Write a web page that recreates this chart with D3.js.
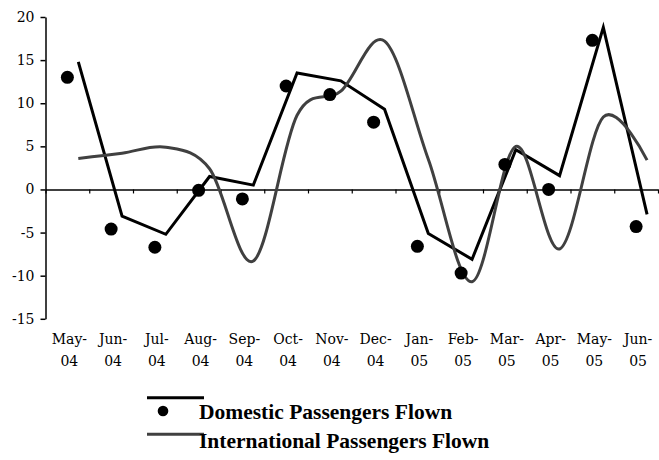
<!DOCTYPE html>
<html>
<head>
<meta charset="utf-8">
<script src="https://cdn.jsdelivr.net/npm/d3@7/dist/d3.min.js"></script>
<style>
  html, body { margin: 0; padding: 0; background: #fff; }
  svg { display: block; }
</style>
</head>
<body>
<svg id="chart" width="659" height="460"></svg>
<script>
// Monthly growth of passengers flown (%)
const months = ["May-04", "Jun-04", "Jul-04", "Aug-04", "Sep-04", "Oct-04", "Nov-04",
                "Dec-04", "Jan-05", "Feb-05", "Mar-05", "Apr-05", "May-05", "Jun-05"];
const domesticPoints = [13.0, -4.6, -6.7, -0.1, -1.1, 12.0, 11.0, 7.8, -6.6, -9.7, 2.9, 0.0, 17.3, -4.3];
const domesticLine   = [14.8, -3.1, -5.2, 1.5, 0.5, 13.5, 12.6, 9.3, -5.1, -8.1, 4.6, 1.6, 18.8, -2.9];
const international  = [3.6, 4.2, 4.9, 2.4, -8.3, 8.6, 11.4, 17.2, 3.5, -10.7, 5.0, -6.9, 8.4, 3.4];
const yTicks = [-15, -10, -5, 0, 5, 10, 15, 20];
const legendLabels = ["Domestic Passengers Flown", "International Passengers Flown"];

const svg = d3.select("#chart");
const tickFont = "'DejaVu Serif', serif";
const legendFont = "'Liberation Serif', 'Times New Roman', serif";

const x = d3.scaleBand().domain(months).range([45.5, 658]).padding(0);
const bw = x.bandwidth();
const xEdge = d3.scaleLinear().domain([0, months.length]).range(x.range());
const y = d3.scaleLinear().domain([-15, 20]).range([318.8, 17]);

// Y axis (plain hyphen for negatives)
const yAxis = svg.append("g")
  .attr("transform", "translate(45.5,0)")
  .call(d3.axisLeft(y).tickValues(yTicks).tickFormat(d => String(d))
        .tickSize(5).tickSizeOuter(0).tickPadding(6));
yAxis.select(".domain").attr("stroke", "#000").attr("stroke-width", 1.5);
yAxis.selectAll(".tick line").attr("stroke", "#000").attr("stroke-width", 1.5);
yAxis.selectAll(".tick text")
  .attr("font-family", tickFont).attr("font-size", 14).attr("fill", "#000");

// X axis along zero, ticks at month boundaries
const xAxis = svg.append("g")
  .attr("transform", `translate(0,${y(0)})`)
  .call(d3.axisBottom(xEdge).tickValues(d3.range(months.length + 1))
        .tickFormat("").tickSize(4).tickSizeOuter(0));
xAxis.select(".domain").attr("stroke", "#000").attr("stroke-width", 1.5);
xAxis.selectAll(".tick line").attr("stroke", "#000").attr("stroke-width", 1.2);

// Month labels, two lines below the plot
const labels = svg.append("g")
  .attr("font-family", tickFont).attr("font-size", 14).attr("fill", "#000")
  .attr("text-anchor", "middle");
months.forEach(m => {
  const parts = m.split("-");
  const cx = x(m) + bw / 2 + 2;
  const t = labels.append("text").attr("x", cx).attr("y", 344);
  t.append("tspan").attr("x", cx).text(parts[0] + "-");
  t.append("tspan").attr("x", cx).attr("dy", 22).text(parts[1]);
});

// Domestic line (plotted at the three-quarter point of each month)
const lineX = d => x(d.m) + bw * 0.75;
const domData = months.map((m, i) => ({ m, v: domesticLine[i] }));
svg.append("path")
  .datum(domData)
  .attr("fill", "none").attr("stroke", "#000").attr("stroke-width", 3)
  .attr("stroke-linejoin", "miter")
  .attr("d", d3.line().x(lineX).y(d => y(d.v)));

// International smoothed line
const intData = months.map((m, i) => ({ m, v: international[i] }));
svg.append("path")
  .datum(intData)
  .attr("fill", "none").attr("stroke", "#404040").attr("stroke-width", 3)
  .attr("d", d3.line().x(lineX).y(d => y(d.v)).curve(d3.curveCardinal.tension(0)));

// Domestic markers at mid-month
svg.append("g").selectAll("circle")
  .data(months.map((m, i) => ({ m, v: domesticPoints[i] })))
  .join("circle")
  .attr("cx", d => x(d.m) + bw / 2)
  .attr("cy", d => y(d.v))
  .attr("r", 6.5)
  .attr("fill", "#000");

// Legend
const lg = svg.append("g");
lg.append("line").attr("x1", 147).attr("x2", 204).attr("y1", 397.7).attr("y2", 397.7)
  .attr("stroke", "#000").attr("stroke-width", 3);
lg.append("circle").attr("cx", 163).attr("cy", 411).attr("r", 5.3).attr("fill", "#000");
lg.append("text").attr("x", 199).attr("y", 419)
  .attr("font-family", legendFont).attr("font-weight", "bold").attr("font-size", 21.5)
  .text(legendLabels[0]);
lg.append("line").attr("x1", 147).attr("x2", 204).attr("y1", 434.2).attr("y2", 434.2)
  .attr("stroke", "#404040").attr("stroke-width", 3);
lg.append("text").attr("x", 199).attr("y", 448)
  .attr("font-family", legendFont).attr("font-weight", "bold").attr("font-size", 21.5)
  .text(legendLabels[1]);
</script>
</body>
</html>
